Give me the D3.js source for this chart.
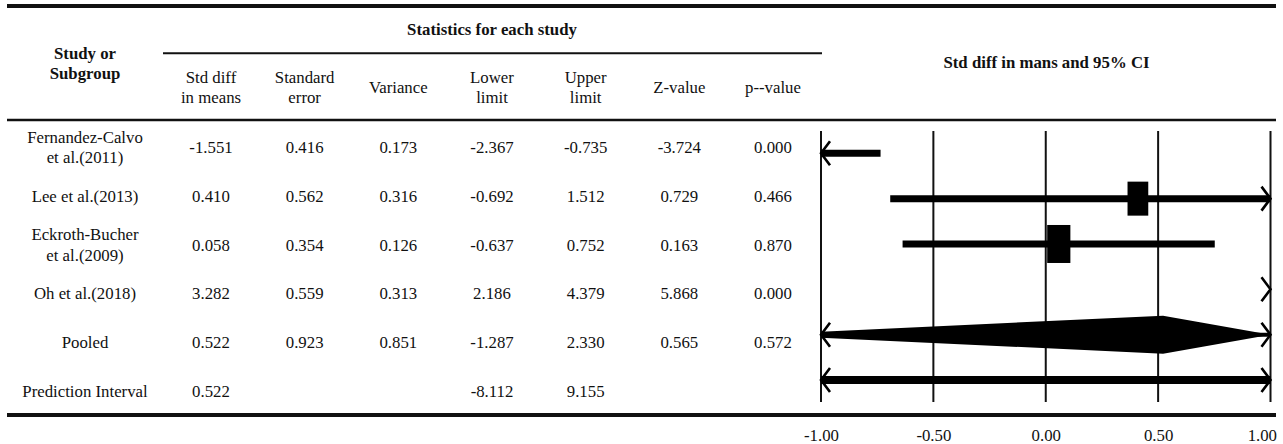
<!DOCTYPE html>
<html>
<head>
<meta charset="utf-8">
<script src="https://cdn.jsdelivr.net/npm/d3@7"></script>
<style>
  html, body { margin: 0; padding: 0; background: #fff; }
  svg { display: block; }
  text { font-family: "Liberation Serif", "Times New Roman", serif; fill: #111; }
</style>
</head>
<body>
<svg id="chart" width="1283" height="444"></svg>
<script>
// ---- Data ----
const studyLabels = [
  ["Fernandez-Calvo", "et al.(2011)"],
  ["Lee et al.(2013)"],
  ["Eckroth-Bucher", "et al.(2009)"],
  ["Oh et al.(2018)"],
  ["Pooled"],
  ["Prediction Interval"]
];
const rowKind = ["study", "study", "study", "study", "pooled", "prediction"];
const stdDiff  = [-1.551, 0.410, 0.058, 3.282, 0.522, 0.522];
const stdError = [0.416, 0.562, 0.354, 0.559, 0.923, null];
const variance = [0.173, 0.316, 0.126, 0.313, 0.851, null];
const lowerLim = [-2.367, -0.692, -0.637, 2.186, -1.287, -8.112];
const upperLim = [-0.735, 1.512, 0.752, 4.379, 2.330, 9.155];
const zValue   = [-3.724, 0.729, 0.163, 5.868, 0.565, null];
const pValue   = [0.000, 0.466, 0.870, 0.000, 0.572, null];

const columnHeaders = [
  ["Std diff", "in means"], ["Standard", "error"], ["Variance"],
  ["Lower", "limit"], ["Upper", "limit"], ["Z-value"], ["p--value"]
];
const axisTicks = [-1.00, -0.50, 0.00, 0.50, 1.00];

// ---- Setup ----
const svg = d3.select("#chart");
const locale = d3.formatLocale({decimal: ".", thousands: ",", grouping: [3], currency: ["", ""], minus: "-"});
const f3 = locale.format(".3f");
const f2 = locale.format(".2f");

const rows = d3.range(studyLabels.length);
const columns = [stdDiff, stdError, variance, lowerLim, upperLim, zValue, pValue];

const xCol = d3.scalePoint().domain(d3.range(columns.length)).range([211, 773]);
const yText = d3.scalePoint().domain(rows).range([153.3, 396.7]);
const yMark = d3.scalePoint().domain(rows).range([153.3, 380]);
const x = d3.scaleLinear().domain([-1, 1]).range([821, 1270.5]);
const [xMin, xMax] = x.domain();

const FS = 16.8;

// ---- Table rules ----
const rule = (x1, x2, y, w) => svg.append("line")
  .attr("x1", x1).attr("x2", x2).attr("y1", y).attr("y2", y)
  .attr("stroke", "#111").attr("stroke-width", w);
rule(7, 1276, 6, 4);
rule(163, 822, 53.3, 2);
rule(7, 1276, 120, 2.5);
rule(7, 1276, 415, 4);

// ---- Headers ----
const header = svg.append("g").attr("font-size", FS);
header.append("text").attr("x", 85).attr("y", 59).attr("text-anchor", "middle")
  .attr("font-weight", "bold").text("Study or");
header.append("text").attr("x", 85).attr("y", 79).attr("text-anchor", "middle")
  .attr("font-weight", "bold").text("Subgroup");
header.append("text").attr("x", 492).attr("y", 34.5).attr("text-anchor", "middle")
  .attr("font-weight", "bold").text("Statistics for each study");
header.append("text").attr("x", 1046.5).attr("y", 68).attr("text-anchor", "middle")
  .attr("font-weight", "bold").text("Std diff in mans and 95% CI");

columnHeaders.forEach((lines, i) => {
  const base = lines.length === 2 ? [83, 102.5] : [93];
  lines.forEach((ln, j) => {
    header.append("text").attr("x", xCol(i)).attr("y", base[j])
      .attr("text-anchor", "middle").text(ln);
  });
});

// ---- Table body ----
const body = svg.append("g").attr("font-size", FS).attr("text-anchor", "middle");
rows.forEach(r => {
  const lines = studyLabels[r];
  const offs = lines.length === 2 ? [-10.5, 10] : [0];
  lines.forEach((ln, j) => {
    body.append("text").attr("x", 85).attr("y", yText(r) + offs[j]).text(ln);
  });
  columns.forEach((col, c) => {
    if (col[r] == null) return;
    body.append("text").attr("x", xCol(c)).attr("y", yText(r)).text(f3(col[r]));
  });
});

// ---- Forest plot ----
const plot = svg.append("g");
svg.append("clipPath").attr("id", "plotClip").append("rect")
  .attr("x", x(xMin)).attr("y", 120).attr("width", x(xMax) - x(xMin)).attr("height", 295);

// reference lines at each tick
plot.selectAll("line.grid").data(axisTicks).join("line")
  .attr("class", "grid")
  .attr("x1", d => x(d)).attr("x2", d => x(d))
  .attr("y1", 131).attr("y2", 402)
  .attr("stroke", "#111").attr("stroke-width", 2);

const clamp = v => Math.max(xMin, Math.min(xMax, v));

function arrowHead(g, side, y) {
  const tip = side === "left" ? x(xMin) : x(xMax);
  const back = side === "left" ? tip + 9 : tip - 9;
  g.append("path")
    .attr("d", `M${back},${y - 12} L${tip},${y} L${back},${y + 12}`)
    .attr("fill", "none").attr("stroke", "#000").attr("stroke-width", 2.6)
    .attr("stroke-linejoin", "miter");
}

const weights = variance.map(v => v == null ? null : 1 / v);
const studyRows = rows.filter(r => rowKind[r] === "study");
const boxH = d3.scaleLinear()
  .domain(d3.extent(studyRows, r => weights[r]))
  .range([34, 38]);

const marks = plot.append("g");
rows.forEach(r => {
  const y = yMark(r);
  const lo = lowerLim[r], hi = upperLim[r], est = stdDiff[r];
  const lineW = rowKind[r] === "prediction" ? 8 : (rowKind[r] === "pooled" ? 4 : 7);

  // confidence / prediction interval within the visible range
  if (hi > xMin && lo < xMax) {
    marks.append("line")
      .attr("x1", x(clamp(lo))).attr("x2", x(clamp(hi)))
      .attr("y1", y).attr("y2", y)
      .attr("stroke", "#000").attr("stroke-width", lineW);
  }
  if (lo < xMin && hi > xMin) arrowHead(marks, "left", y);
  if (hi > xMax) arrowHead(marks, "right", y);

  if (rowKind[r] === "study" && est >= xMin && est <= xMax) {
    const h = boxH(weights[r]), w = h * 0.61;
    marks.append("rect")
      .attr("x", x(est) - w / 2).attr("y", y - h / 2)
      .attr("width", w).attr("height", h).attr("fill", "#000");
  }
  if (rowKind[r] === "pooled") {
    const half = 19;
    const pts = [[x(lo), y], [x(est), y - half], [x(Math.min(hi, xMax)), y], [x(est), y + half]];
    marks.append("path")
      .attr("clip-path", "url(#plotClip)")
      .attr("d", d3.line()(pts) + "Z")
      .attr("fill", "#000");
  }
});

// ---- Axis ----
const axis = svg.append("g")
  .attr("transform", "translate(0,429.5)")
  .call(d3.axisBottom(x).tickValues(axisTicks).tickFormat(f2).tickSize(0).tickPadding(0));
axis.select(".domain").remove();
axis.selectAll("text")
  .attr("font-family", "Liberation Serif, Times New Roman, serif")
  .attr("font-size", FS).attr("fill", "#111");
axis.selectAll(".tick").filter(d => d === xMax).select("text")
  .attr("text-anchor", "end").attr("x", 6);
</script>
</body>
</html>
